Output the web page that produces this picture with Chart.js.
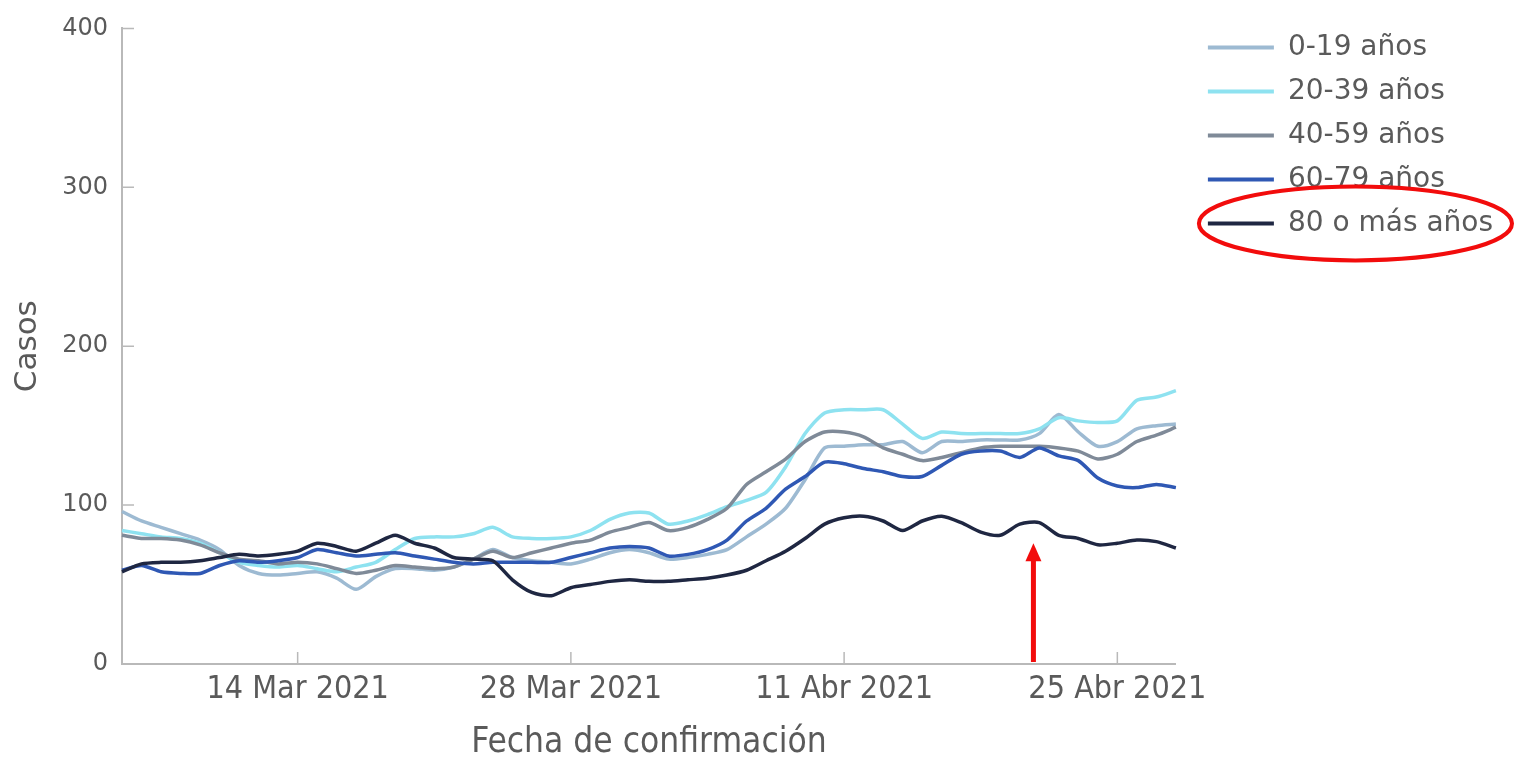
<!DOCTYPE html>
<html>
<head>
<meta charset="utf-8">
<script src="https://cdn.jsdelivr.net/npm/chart.js@4.4.1/dist/chart.umd.min.js"></script>
<style>
  html, body { margin: 0; padding: 0; background: #fff; }
  #wrap { width: 1516px; height: 758px; position: relative; }
</style>
</head>
<body>
<div id="wrap"><canvas id="casos-chart"></canvas></div>
<script>
// Casos por grupo de edad, 5 Mar – 28 Abr 2021
const FECHAS = [
  '5 Mar 2021', '6 Mar 2021', '7 Mar 2021', '8 Mar 2021', '9 Mar 2021', '10 Mar 2021',
  '11 Mar 2021', '12 Mar 2021', '13 Mar 2021', '14 Mar 2021', '15 Mar 2021', '16 Mar 2021',
  '17 Mar 2021', '18 Mar 2021', '19 Mar 2021', '20 Mar 2021', '21 Mar 2021', '22 Mar 2021',
  '23 Mar 2021', '24 Mar 2021', '25 Mar 2021', '26 Mar 2021', '27 Mar 2021', '28 Mar 2021',
  '29 Mar 2021', '30 Mar 2021', '31 Mar 2021', '1 Abr 2021', '2 Abr 2021', '3 Abr 2021',
  '4 Abr 2021', '5 Abr 2021', '6 Abr 2021', '7 Abr 2021', '8 Abr 2021', '9 Abr 2021',
  '10 Abr 2021', '11 Abr 2021', '12 Abr 2021', '13 Abr 2021', '14 Abr 2021', '15 Abr 2021',
  '16 Abr 2021', '17 Abr 2021', '18 Abr 2021', '19 Abr 2021', '20 Abr 2021', '21 Abr 2021',
  '22 Abr 2021', '23 Abr 2021', '24 Abr 2021', '25 Abr 2021', '26 Abr 2021', '27 Abr 2021',
  '28 Abr 2021'
];

const TICK_FECHAS = ['14 Mar 2021', '28 Mar 2021', '11 Abr 2021', '25 Abr 2021'];
const Y_TICKS = [0, 100, 200, 300, 400];

const GRUPOS = ['0-19 años', '20-39 años', '40-59 años', '60-79 años', '80 o más años'];

const EDAD_0_19 = [
  96, 90, 86, 82, 78, 72, 62, 57, 56, 57, 58, 54, 47, 55, 60, 60, 59, 61, 66,
  72, 67, 65, 64, 63, 66, 70, 72, 70, 66, 67, 69, 72, 80, 88, 98, 116, 136, 137,
  138, 138, 140, 133, 140, 140, 141, 141, 141, 145, 157, 146, 137, 140, 148, 150, 151
];
const EDAD_20_39 = [
  84, 82, 80, 79, 76, 70, 64, 62, 61, 62, 60, 58, 61, 64, 72, 79, 80, 80, 82,
  86, 80, 79, 79, 80, 84, 91, 95, 95, 88, 90, 94, 99, 103, 108, 124, 145, 158, 160,
  160, 160, 151, 142, 146, 145, 145, 145, 145, 148, 155, 153, 152, 153, 166, 168, 172
];
const EDAD_40_59 = [
  81, 79, 79, 78, 75, 70, 66, 65, 63, 64, 63, 60, 57, 59, 62, 61, 60, 61, 66,
  71, 67, 70, 73, 76, 78, 83, 86, 89, 84, 86, 91, 98, 113, 121, 129, 140, 146, 146,
  143, 136, 132, 128, 130, 133, 136, 137, 137, 137, 136, 134, 129, 132, 140, 144, 149
];
const EDAD_60_79 = [
  59, 62, 58, 57, 57, 62, 65, 64, 65, 67, 72, 70, 68, 69, 70, 68, 66, 64, 63,
  64, 64, 64, 64, 67, 70, 73, 74, 73, 68, 69, 72, 78, 90, 98, 110, 118, 127, 126,
  123, 121, 118, 118, 125, 132, 134, 134, 130, 136, 131, 128, 117, 112, 111, 113, 111
];
const EDAD_80_MAS = [
  58, 63, 64, 64, 65, 67, 69, 68, 69, 71, 76, 74, 71, 76, 81, 76, 73, 67, 66,
  65, 53, 45, 43, 48, 50, 52, 53, 52, 52, 53, 54, 56, 59, 65, 71, 79, 88, 92,
  93, 90, 84, 90, 93, 89, 83, 81, 88, 89, 81, 79, 75, 76, 78, 77, 73
];

const SERIES = [EDAD_0_19, EDAD_20_39, EDAD_40_59, EDAD_60_79, EDAD_80_MAS];
const COLORES = ['#9dbad2', '#8ee2f0', '#7f8a98', '#2f58b4', '#1f2742'];

// red markup drawn over the chart (arrow under 20-21 Abr, ring round last legend entry)
const FLECHA_EN = 46.7;
const FLECHA_PUNTA = 76;
const ROJO = '#f20c0c';

const TXT = '#5a5a5a';
const EJE = '#b9b9b9';
const FONT = "'DejaVu Sans', Verdana, sans-serif";
const FONT_COND = "'DejaVu Sans Condensed', 'Liberation Sans Narrow', 'DejaVu Sans', sans-serif";

// legend sits a little away from the plot
const HUECO_LEYENDA = 16;

const moverLeyenda = {
  id: 'moverLeyenda',
  afterLayout(chart) {
    chart.legend.left += HUECO_LEYENDA;
    chart.legend.right += HUECO_LEYENDA;
  }
};

const ticksDentro = {
  id: 'ticksDentro',
  afterDatasetsDraw(chart) {
    const { ctx, scales: { x, y } } = chart;
    ctx.save();
    ctx.strokeStyle = EJE;
    ctx.lineWidth = 1.5;
    ctx.beginPath();
    x.ticks.forEach((t, i) => {
      if (!TICK_FECHAS.includes(FECHAS[t.value])) return;
      const px = x.getPixelForTick(i);
      ctx.moveTo(px, y.bottom);
      ctx.lineTo(px, y.bottom - 12);
    });
    y.ticks.forEach((t, i) => {
      const py = y.getPixelForTick(i);
      ctx.moveTo(x.left, py);
      ctx.lineTo(x.left + 12, py);
    });
    ctx.stroke();
    ctx.restore();
  }
};

const marcasRojas = {
  id: 'marcasRojas',
  afterDraw(chart) {
    const { ctx, scales: { x, y }, legend } = chart;
    ctx.save();
    ctx.strokeStyle = ROJO;
    ctx.fillStyle = ROJO;

    // arrow
    const ax = x.getPixelForValue(FLECHA_EN);
    const tip = y.getPixelForValue(FLECHA_PUNTA);
    const base = y.getPixelForValue(0) - 2;
    ctx.lineWidth = 5;
    ctx.beginPath();
    ctx.moveTo(ax, base);
    ctx.lineTo(ax, tip + 14);
    ctx.stroke();
    ctx.beginPath();
    ctx.moveTo(ax, tip);
    ctx.lineTo(ax - 8, tip + 18);
    ctx.lineTo(ax + 8, tip + 18);
    ctx.closePath();
    ctx.fill();

    // ring
    const hb = legend.legendHitBoxes[4];
    if (hb) {
      const cx = hb.left + hb.width / 2 + 5;
      const cy = hb.top + hb.height / 2;
      ctx.lineWidth = 4;
      ctx.beginPath();
      ctx.ellipse(cx, cy, hb.width / 2 + 14, 37, 0, 0, Math.PI * 2);
      ctx.stroke();
    }
    ctx.restore();
  }
};

const ctx = document.getElementById('casos-chart').getContext('2d');
new Chart(ctx, {
  type: 'line',
  data: {
    labels: FECHAS,
    datasets: GRUPOS.map((g, i) => ({
      label: g,
      data: SERIES[i],
      borderColor: COLORES[i],
      backgroundColor: COLORES[i],
      borderWidth: 3.5,
      pointRadius: 0,
      tension: 0.25,
      fill: false,
      order: GRUPOS.length - i,
    })),
  },
  options: {
    responsive: true,
    maintainAspectRatio: false,
    animation: false,
    layout: { padding: { left: 0, top: 9, right: 29, bottom: 0 } },
    plugins: {
      legend: {
        position: 'right',
        align: 'start',
        title: { display: true, text: '', font: { size: 7 }, padding: 0 },
        labels: {
          color: TXT,
          font: { size: 28, family: FONT },
          boxWidth: 66,
          boxHeight: 4,
          padding: 16,
          sort: (a, b) => a.datasetIndex - b.datasetIndex,
          generateLabels: chart => chart.data.datasets.map((d, i) => ({
            text: d.label,
            fillStyle: d.borderColor,
            strokeStyle: d.borderColor,
            lineWidth: 0,
            datasetIndex: i,
            fontColor: TXT,
          })),
        },
      },
      tooltip: { enabled: false },
    },
    scales: {
      x: {
        type: 'category',
        offset: false,
        afterFit: s => { s.height = 94; },
        grid: { display: false, drawTicks: false },
        border: { display: true, color: EJE, width: 2 },
        ticks: {
          autoSkip: false,
          maxRotation: 0,
          color: TXT,
          padding: 10,
          font: { size: 32, family: FONT_COND, lineHeight: 1 },
          callback(v) {
            const l = this.getLabelForValue(v);
            return TICK_FECHAS.includes(l) ? l : '';
          },
        },
        title: {
          display: true,
          text: 'Fecha de confirmación',
          color: TXT,
          font: { size: 35, family: FONT_COND, lineHeight: 0.85 },
          padding: { top: 0, bottom: 0 },
        },
      },
      y: {
        min: 0,
        max: 400,
        afterFit: s => { s.width = 122; },
        grid: { display: false, drawTicks: false },
        border: { display: true, color: EJE, width: 2 },
        afterBuildTicks: s => { s.ticks = Y_TICKS.map(v => ({ value: v })); },
        ticks: {
          color: TXT,
          padding: 14,
          font: { size: 24, family: FONT },
        },
        title: {
          display: true,
          text: 'Casos',
          color: TXT,
          font: { size: 31, family: FONT },
          padding: { top: 9, bottom: 0 },
        },
      },
    },
  },
  plugins: [moverLeyenda, ticksDentro, marcasRojas],
});
</script>
</body>
</html>
